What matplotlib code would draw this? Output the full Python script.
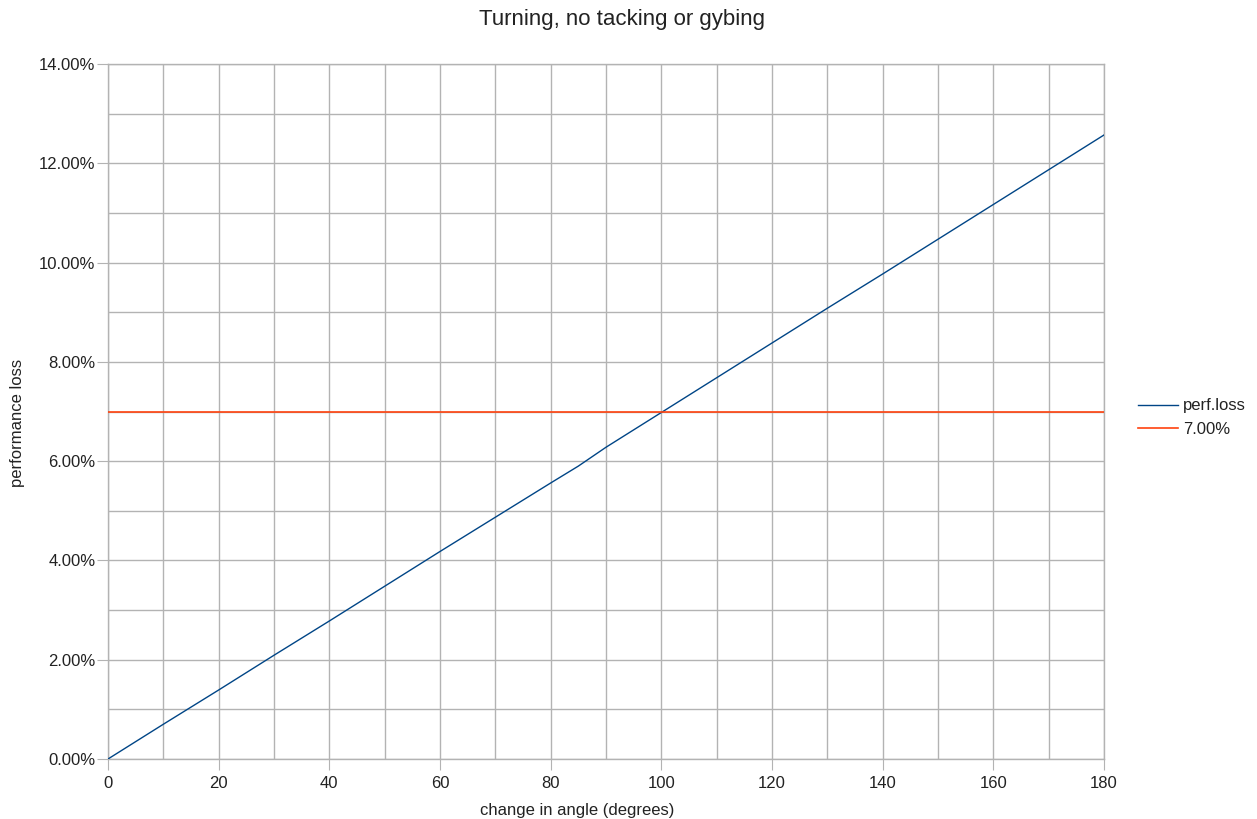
import matplotlib
matplotlib.use("Agg")
import matplotlib.pyplot as plt
from matplotlib.ticker import MultipleLocator, FuncFormatter

angles = [0, 10, 20, 30, 40, 50, 60, 70, 80, 85, 90, 100, 110, 120, 130, 140, 150, 160, 170, 180]
perf_loss = [0.00, 0.70, 1.39, 2.09, 2.78, 3.48, 4.18, 4.87, 5.56, 5.90, 6.28, 6.98, 7.68, 8.38,
             9.08, 9.77, 10.47, 11.17, 11.87, 12.57]
threshold = 7.00

plt.rcParams['font.family'] = ['Liberation Sans', 'DejaVu Sans']
TXT = '#222222'

fig = plt.figure(figsize=(12.57, 8.19), dpi=100)
ax = fig.add_axes([108/1257, 1 - 759/819, (1104-108)/1257, (759-64)/819])

ax.plot(angles, perf_loss, color='#004586', lw=1.0, label='perf.loss', zorder=3)
ax.plot([angles[0], angles[-1]], [threshold, threshold], color='#ff420e', lw=1.2, label='7.00%', zorder=3)

ax.set_xlim(0, 180)
ax.set_ylim(0, 14)
ax.xaxis.set_major_locator(MultipleLocator(20))
ax.xaxis.set_minor_locator(MultipleLocator(10))
ax.yaxis.set_major_locator(MultipleLocator(2))
ax.yaxis.set_minor_locator(MultipleLocator(1))
ax.yaxis.set_major_formatter(FuncFormatter(lambda v, p: f"{v:.2f}%"))
ax.grid(which='both', color='#b3b3b3', lw=1.0, zorder=0)
ax.set_axisbelow(True)
for s in ax.spines.values():
    s.set_color('#b3b3b3')
    s.set_linewidth(1.0)
ax.tick_params(which='major', length=8, color='#b3b3b3', labelsize=12, labelcolor=TXT)
ax.tick_params(axis='x', which='major', pad=4)
ax.tick_params(axis='y', which='major', pad=1)
ax.tick_params(which='minor', length=0)

ax.set_xlabel('change in angle (degrees)', fontsize=12, color=TXT, va='center')
ax.xaxis.set_label_coords((577-108)/996, (759-810)/695)
ax.set_ylabel('performance loss', fontsize=12, color=TXT, va='center')
ax.yaxis.set_label_coords((18-108)/996, (759-423)/695)
fig.text(622/1257, 1 - 19/819, 'Turning, no tacking or gybing', ha='center', va='center',
         fontsize=16, color=TXT)

leg = ax.legend(loc='center left', bbox_to_anchor=(1 + (1138-1104)/996, (759-417.5)/695), frameon=False,
                fontsize=12, handlelength=2.4, handletextpad=0.3, labelspacing=0.5,
                borderpad=0, borderaxespad=0)
for t in leg.get_texts():
    t.set_color(TXT)

fig.savefig('out.png', dpi=100)
